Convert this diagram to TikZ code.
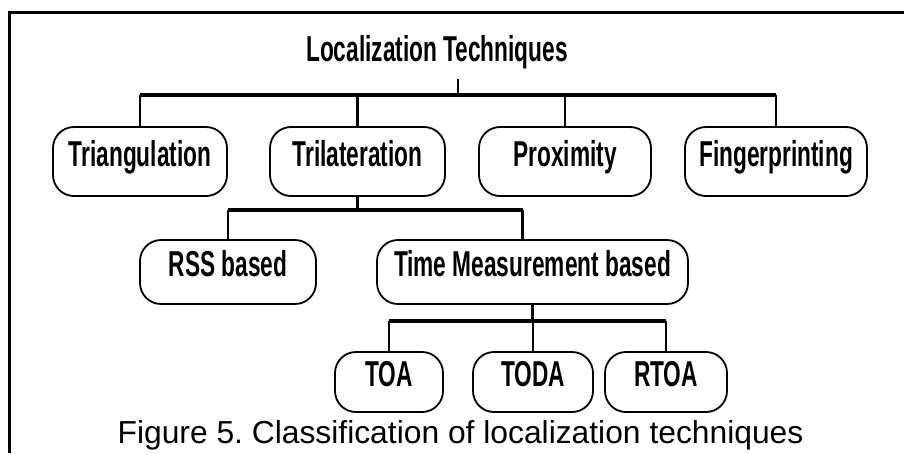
\documentclass[tikz,border=0pt]{standalone}
\usepackage{fontspec}
\setmainfont{Liberation Sans}
\usepackage{graphicx}
\newcommand{\tight}[1]{\scalebox{0.63}[1]{#1}}
\frenchspacing

\begin{document}
\begin{tikzpicture}[x=1pt, y=-1pt]
      \tikzstyle{method} = [
        draw,
        rectangle,
        rounded corners=21pt,
        line width=1.8pt,
        inner sep=0pt,
        text height=26pt,
        text depth=17pt,
        font=\fontsize{36}{40}\selectfont\bfseries
      ]

      \tikzstyle{link} = [
        line width=2.2pt
      ]

      \tikzstyle{bus} = [
        line width=3.8pt
      ]

      \useasboundingbox (0,0) rectangle (904,453);
      \draw[line width=2.6pt] (9.7,453) -- (9.7,12.7) -- (904,12.7);

      \node[anchor=base, inner sep=0pt, font=\fontsize{36}{40}\selectfont\bfseries]
      (title) at (437,61) {\tight{Localization Techniques}};

      \node[method, minimum width=174pt, minimum height=69pt] (tri) at (140,161.5) {\tight{Triangulation}};
      \node[method, minimum width=175pt, minimum height=69pt] (tril) at (357.5,161.5) {\tight{Trilateration}};
      \node[method, minimum width=172pt, minimum height=69pt] (prox) at (565,161.5) {\tight{Proximity}};
      \node[method, minimum width=182pt, minimum height=69pt] (fing) at (776,161.5) {\tight{Fingerprinting}};

      \node[method, minimum width=176pt, minimum height=64pt] (rss) at (228,272) {\tight{RSS based}};
      \node[method, minimum width=311pt, minimum height=64pt] (tmb) at (532.5,272) {\tight{Time Measurement based}};

      \node[method, minimum width=108pt, minimum height=60pt] (toa) at (389,382) {\tight{TOA}};
      \node[method, minimum width=120pt, minimum height=60pt] (toda) at (533,382) {\tight{TODA}};
      \node[method, minimum width=122pt, minimum height=60pt] (rtoa) at (666,382) {\tight{RTOA}};

      \node[anchor=base, inner sep=0pt, font=\fontsize{31.8}{36}\selectfont]
      (caption) at (460.5,443) {Figure 5. Classification of localization techniques};

      \coordinate (top) at (458,95);
      \coordinate (mid) at (357.5,210);
      \coordinate (low) at (532.5,321);

      \draw[link] (top) -- ++(0,-16);
      \draw[bus] (tri.north |- top) -- (fing.north |- top);
      \draw[link] (tri.north |- top) -- (tri.north);
      \draw[link] (tril.north |- top) -- (tril.north);
      \draw[link] (prox.north |- top) -- (prox.north);
      \draw[link] (fing.north |- top) -- (fing.north);

      \draw[link] (tril.south) -- (mid);
      \draw[bus] (rss.north |- mid) -- ([xshift=-10pt]tmb.north |- mid);
      \draw[link] (rss.north |- mid) -- (rss.north);
      \draw[link] ([xshift=-10pt]tmb.north |- mid) -- ([xshift=-10pt]tmb.north);

      \draw[link] (tmb.south) -- (low);
      \draw[bus] (toa.north |- low) -- (rtoa.north |- low);
      \draw[link] (toa.north |- low) -- (toa.north);
      \draw[link] (toda.north |- low) -- (toda.north);
      \draw[link] (rtoa.north |- low) -- (rtoa.north);
    \end{tikzpicture}
\end{document}
